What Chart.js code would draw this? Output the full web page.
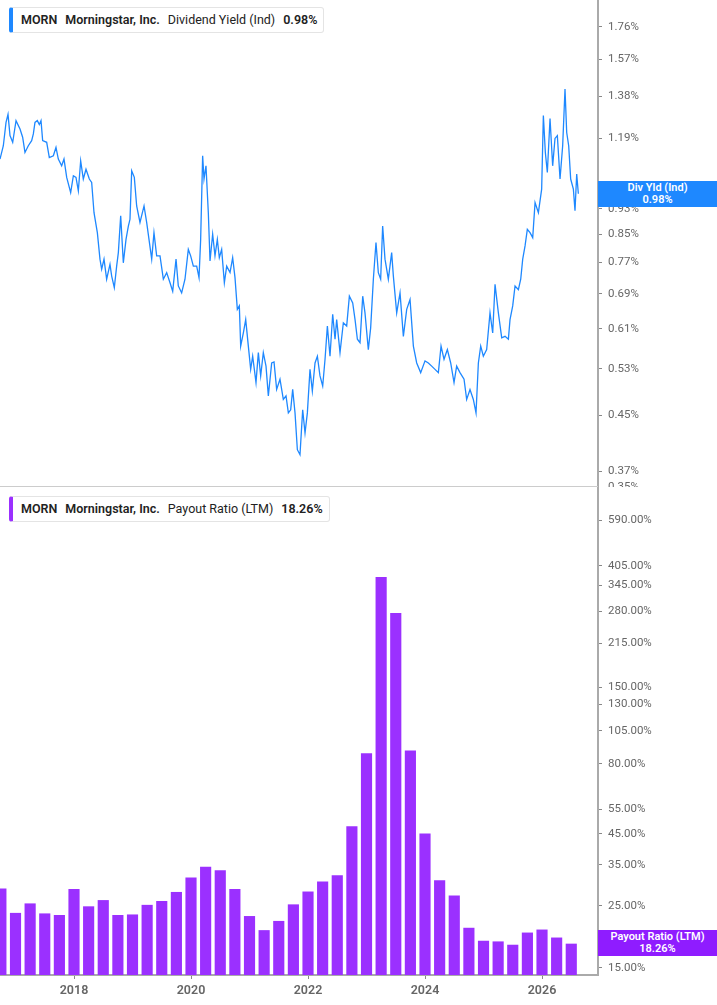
<!DOCTYPE html>
<html><head><meta charset="utf-8">
<script src="https://cdn.jsdelivr.net/npm/chart.js@4"></script>
<style>
body{margin:0;background:#fff;font-family:Roboto,"Liberation Sans",sans-serif;}
#wrap{position:relative;width:717px;height:1005px;overflow:hidden}
canvas{position:absolute;left:0}
.leg{position:absolute;left:9px;height:24px;border:1px solid #e4e4e4;border-left:4px solid #1e88ff;border-radius:3px;background:#fff;font-size:12.5px;color:#222;line-height:24px;padding:0 6px 0 8px;white-space:nowrap}
.leg b{font-weight:600;margin-right:8px}
.tag{position:absolute;left:598px;width:119px;color:#fff;font-size:11px;font-weight:600;text-align:center;line-height:12px;padding:1px 0}
</style></head><body>
<div id="wrap">
<canvas id="c1" width="717" height="487" style="top:0;width:717px;height:487px"></canvas>
<canvas id="c2" width="717" height="518" style="top:487px;width:717px;height:518px"></canvas>
<div style="position:absolute;left:0;top:486px;width:598px;height:1px;background:#ccc"></div>
<div class="leg" style="top:7px"><b>MORN</b><b>Morningstar, Inc.</b><span style="margin-right:8px">Dividend Yield (Ind)</span><b style="margin:0">0.98%</b></div>
<div class="leg" style="top:496px;border-left-color:#9b30ff"><b>MORN</b><b>Morningstar, Inc.</b><span style="margin-right:8px">Payout Ratio (LTM)</span><b style="margin:0">18.26%</b></div>
<div class="tag" style="top:181px;background:#1e88ff">Div Yld (Ind)<br>0.98%</div>
<div class="tag" style="top:930px;background:#8f1cff">Payout Ratio (LTM)<br>18.26%</div>
</div>
<script>
const yieldDates=[2016.735,2016.792,2016.838,2016.872,2016.906,2016.952,2017.009,2017.077,2017.122,2017.162,2017.219,2017.276,2017.305,2017.333,2017.373,2017.407,2017.436,2017.464,2017.533,2017.578,2017.647,2017.692,2017.732,2017.789,2017.829,2017.875,2017.943,2017.989,2018.034,2018.074,2018.114,2018.159,2018.205,2018.262,2018.302,2018.342,2018.399,2018.444,2018.473,2018.513,2018.558,2018.615,2018.644,2018.689,2018.729,2018.758,2018.798,2018.843,2018.889,2018.929,2018.957,2018.986,2019.031,2019.071,2019.128,2019.197,2019.242,2019.328,2019.367,2019.413,2019.470,2019.527,2019.584,2019.641,2019.687,2019.744,2019.783,2019.840,2019.897,2019.954,2019.994,2020.040,2020.097,2020.137,2020.165,2020.199,2020.222,2020.256,2020.296,2020.325,2020.370,2020.410,2020.450,2020.484,2020.524,2020.570,2020.610,2020.667,2020.712,2020.752,2020.792,2020.826,2020.849,2020.894,2020.935,2020.980,2021.020,2021.054,2021.111,2021.151,2021.191,2021.236,2021.282,2021.322,2021.379,2021.419,2021.464,2021.521,2021.578,2021.624,2021.664,2021.704,2021.738,2021.778,2021.818,2021.863,2021.909,2021.949,2021.989,2022.034,2022.074,2022.120,2022.160,2022.205,2022.251,2022.291,2022.331,2022.376,2022.422,2022.462,2022.490,2022.547,2022.604,2022.661,2022.707,2022.764,2022.804,2022.844,2022.889,2022.935,2022.974,2023.031,2023.071,2023.117,2023.162,2023.202,2023.242,2023.276,2023.316,2023.373,2023.430,2023.459,2023.516,2023.573,2023.630,2023.687,2023.744,2023.801,2023.858,2023.926,2024.000,2024.057,2024.114,2024.171,2024.228,2024.274,2024.325,2024.382,2024.439,2024.496,2024.541,2024.598,2024.667,2024.712,2024.769,2024.826,2024.872,2024.912,2024.952,2024.997,2025.054,2025.111,2025.157,2025.197,2025.254,2025.311,2025.368,2025.425,2025.453,2025.499,2025.539,2025.596,2025.636,2025.670,2025.710,2025.749,2025.795,2025.841,2025.881,2025.938,2025.994,2026.023,2026.057,2026.091,2026.137,2026.182,2026.222,2026.262,2026.308,2026.353,2026.393,2026.422,2026.456,2026.490,2026.536,2026.564,2026.593,2026.621];
const yieldValues=[1.107,1.160,1.259,1.295,1.202,1.174,1.267,1.230,1.195,1.133,1.160,1.181,1.209,1.259,1.267,1.250,1.267,1.181,1.174,1.113,1.120,1.153,1.107,1.081,1.107,1.038,0.984,1.044,1.038,0.990,1.100,1.032,1.068,1.032,1.020,0.917,0.855,0.779,0.752,0.779,0.726,0.765,0.734,0.705,0.760,0.797,0.907,0.769,0.835,0.875,0.896,1.062,1.038,0.939,0.886,0.939,0.886,0.779,0.855,0.788,0.788,0.726,0.743,0.717,0.696,0.779,0.709,0.692,0.726,0.806,0.788,0.760,0.760,0.730,0.835,1.120,1.032,1.081,0.917,0.774,0.850,0.788,0.835,0.783,0.806,0.717,0.760,0.743,0.783,0.730,0.653,0.661,0.574,0.601,0.630,0.574,0.529,0.554,0.505,0.561,0.517,0.561,0.535,0.482,0.541,0.543,0.493,0.511,0.476,0.482,0.454,0.459,0.493,0.454,0.399,0.392,0.459,0.423,0.454,0.529,0.490,0.541,0.554,0.517,0.499,0.548,0.616,0.554,0.642,0.588,0.630,0.561,0.623,0.616,0.684,0.668,0.630,0.588,0.581,0.684,0.645,0.567,0.612,0.726,0.826,0.743,0.726,0.875,0.779,0.726,0.797,0.734,0.645,0.692,0.594,0.653,0.676,0.574,0.541,0.523,0.545,0.541,0.535,0.529,0.523,0.574,0.548,0.567,0.541,0.505,0.535,0.523,0.511,0.476,0.493,0.476,0.454,0.541,0.574,0.554,0.567,0.645,0.601,0.713,0.645,0.591,0.594,0.588,0.630,0.661,0.709,0.700,0.726,0.779,0.816,0.865,0.855,0.840,0.950,0.917,0.996,1.290,1.133,1.056,1.276,1.081,1.190,1.202,1.032,1.160,1.416,1.215,1.160,1.032,0.996,0.923,1.050,0.980];
const payoutQuarters=[2016.75,2017.0,2017.25,2017.5,2017.75,2018.0,2018.25,2018.5,2018.75,2019.0,2019.25,2019.5,2019.75,2020.0,2020.25,2020.5,2020.75,2021.0,2021.25,2021.5,2021.75,2022.0,2022.25,2022.5,2022.75,2023.0,2023.25,2023.5,2023.75,2024.0,2024.25,2024.5,2024.75,2025.0,2025.25,2025.5,2025.75,2026.0,2026.25,2026.5];
const payoutValues=[28.7,23.5,25.4,23.4,23.1,28.6,24.8,26.1,23.1,23.2,25.1,25.9,27.9,31.4,34.3,33.3,28.6,22.9,20.4,22.0,25.2,28.0,30.4,32.0,47.8,87,369,275,89,45.1,30.7,27.1,20.8,18.7,18.6,18.1,20.0,20.5,19.2,18.26];
const yieldTicks=[1.76,1.57,1.38,1.19,1.00,0.93,0.85,0.77,0.69,0.61,0.53,0.45,0.37,0.35];
const payoutTicks=[590,405,345,280,215,150,130,105,80,55,45,35,25,18,15];
const xTicks=[2018,2020,2022,2024,2026];

const XMIN=2016.735, XMAX=2026.957;
const font={family:'Roboto, "Liberation Sans", sans-serif',size:11.5};
function yAxis(min,max,ticks){return{type:'logarithmic',position:'right',min,max,
  afterBuildTicks:s=>{s.ticks=ticks.map(v=>({value:v}));},
  afterFit:s=>{s.width=119;s.paddingTop=0;s.paddingBottom=0;},
  ticks:{callback:v=>v.toFixed(2)+'%',color:'#666',font,padding:6,autoSkip:false},
  grid:{display:true,drawOnChartArea:false,tickLength:4,color:'#888'},
  border:{display:true,color:'#aaa',width:2}};}
new Chart(document.getElementById('c1'),{type:'line',
  data:{datasets:[{data:yieldDates.map((d,i)=>({x:d,y:yieldValues[i]})),borderColor:'#1e88ff',borderWidth:1.3,pointRadius:0,tension:0}]},
  options:{responsive:false,animation:false,layout:{padding:0},plugins:{legend:{display:false},tooltip:{enabled:false}},
    scales:{x:{type:'linear',min:XMIN,max:XMAX,display:false},y:yAxis(0.35,1.935,yieldTicks)}}});
new Chart(document.getElementById('c2'),{type:'bar',
  data:{datasets:[{data:payoutQuarters.map((d,i)=>({x:d,y:payoutValues[i]})),backgroundColor:'#9b30ff',barThickness:10.5,base:14.16}]},
  options:{responsive:false,animation:false,layout:{padding:0},plugins:{legend:{display:false},tooltip:{enabled:false}},
    scales:{x:{type:'linear',min:XMIN,max:XMAX,offset:false,
      afterBuildTicks:s=>{s.ticks=xTicks.map(v=>({value:v}));},
      afterFit:s=>{s.height=30;s.paddingLeft=0;s.paddingRight=0;},
      ticks:{callback:v=>String(v),color:'#666',font:{family:font.family,size:12.5,weight:'600'},padding:4,maxRotation:0},
      grid:{display:true,drawOnChartArea:false,offset:false,tickLength:4,color:'#888'},
      border:{display:true,color:'#aaa',width:2}},
      y:yAxis(14.16,774,payoutTicks)}}});
</script></body></html>
